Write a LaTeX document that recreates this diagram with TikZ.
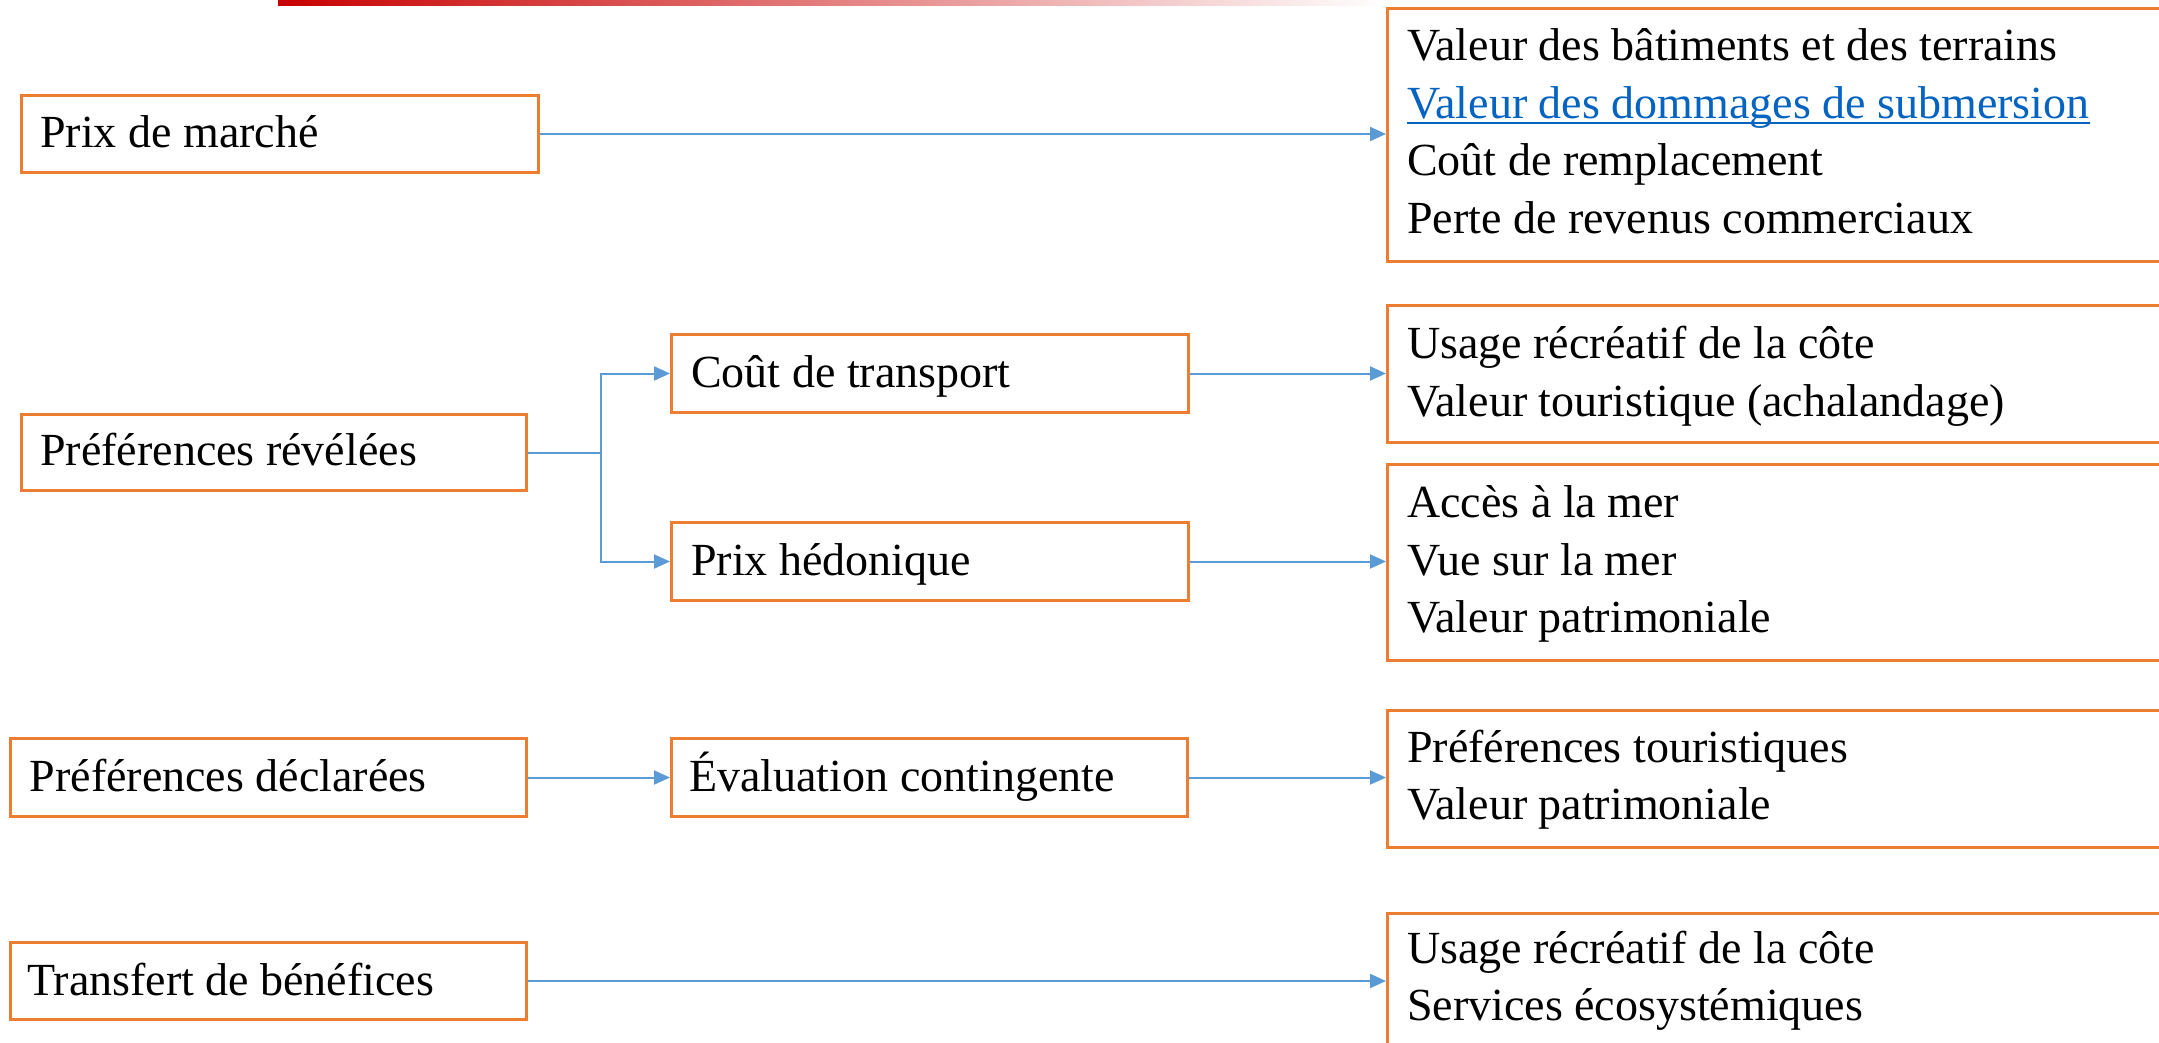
\documentclass[tikz,border=0pt]{standalone}
\usepackage{fontspec}
\setmainfont{Liberation Serif}
\usetikzlibrary{arrows.meta}
\definecolor{boxorange}{RGB}{237,125,49}
\definecolor{linkblue}{RGB}{91,155,213}
\definecolor{hyperblue}{RGB}{5,99,193}
\definecolor{barred}{RGB}{200,0,0}
\tikzset{
  box/.style={draw=boxorange, line width=3pt, rectangle, inner sep=0pt, anchor=north west},
  lbl/.style={anchor=base west, inner sep=0pt, font=\fontsize{46}{57.5}\selectfont, text=black},
  conn/.style={draw=linkblue, line width=2pt, -{Triangle[length=16pt,width=14pt]}},
  plainline/.style={draw=linkblue, line width=2pt},
}
\begin{document}
\begin{tikzpicture}[x=1pt,y=-1pt]
\useasboundingbox (0,0) rectangle (2159,1043);
\clip (0,0) rectangle (2159,1043);
\fill[white] (0,0) rectangle (2159,1043);
\shade[left color=barred, right color=white] (278,0) rectangle (1386,6);

% left column
\node[box, minimum width=517pt, minimum height=77pt] (A) at (20,94) {};
\node[box, minimum width=505pt, minimum height=76pt] (B) at (20,413) {};
\node[box, minimum width=516pt, minimum height=78pt] (C) at (9,737) {};
\node[box, minimum width=516.5pt, minimum height=77pt] (D) at (8.5,941) {};
% middle column
\node[box, minimum width=517pt, minimum height=78pt] (E) at (670,333) {};
\node[box, minimum width=517pt, minimum height=78pt] (F) at (670,521) {};
\node[box, minimum width=516pt, minimum height=78pt] (G) at (670,737) {};
% right column
\node[box, minimum width=800pt, minimum height=253pt] (R1) at (1386,7) {};
\node[box, minimum width=800pt, minimum height=137pt] (R2) at (1386,304) {};
\node[box, minimum width=800pt, minimum height=196pt] (R3) at (1386,463) {};
\node[box, minimum width=800pt, minimum height=137pt] (R4) at (1386,709) {};
\node[box, minimum width=800pt, minimum height=134pt] (R5) at (1386,912) {};

% texts
\node[lbl] (tA) at (40,148) {Prix de marché};
\node[lbl] (tB) at (40,465) {Préférences révélées};
\node[lbl] (tC) at (29.5,791) {Préférences déclarées};
\node[lbl] (tD) at (27,995) {Transfert de bénéfices};
\node[lbl] (tE) at (691,387) {Coût de transport};
\node[lbl] (tF) at (691,575) {Prix hédonique};
\node[lbl] (tG) at (689,791) {Évaluation contingente};

\node[lbl] (r1a) at (1407,61) {Valeur des bâtiments et des terrains};
\node[lbl, text=hyperblue] (r1b) at (1407,118.5) {Valeur des dommages de submersion};
\node[lbl] (r1c) at (1407,176) {Coût de remplacement};
\node[lbl] (r1d) at (1407,233.5) {Perte de revenus commerciaux};
\draw[hyperblue, line width=2.5pt] ([yshift=-4.5pt]r1b.base west) -- ([yshift=-4.5pt]r1b.base east);

\node[lbl] (r2a) at (1407,358) {Usage récréatif de la côte};
\node[lbl] (r2b) at (1407,416) {Valeur touristique (achalandage)};

\node[lbl] (r3a) at (1407,517) {Accès à la mer};
\node[lbl] (r3b) at (1407,575) {Vue sur la mer};
\node[lbl] (r3c) at (1407,632) {Valeur patrimoniale};

\node[lbl] (r4a) at (1407,762) {Préférences touristiques};
\node[lbl] (r4b) at (1407,819) {Valeur patrimoniale};

\node[lbl] (r5a) at (1407,963) {Usage récréatif de la côte};
\node[lbl] (r5b) at (1407,1020) {Services écosystémiques};

% connectors
\draw[conn] (A.east) -- (A.east -| R1.west);
\coordinate (J) at ([xshift=73pt]B.east);
\draw[plainline] (B.east) -- (J);
\draw[conn] (J) |- (E.west);
\draw[conn] (J) |- (F.west);
\draw[conn] (E.east) -- (E.east -| R2.west);
\draw[conn] (F.east) -- (F.east -| R3.west);
\draw[conn] (C.east) -- (C.east -| G.west);
\draw[conn] (G.east) -- (G.east -| R4.west);
\draw[conn] (D.east) -- (D.east -| R5.west);
\end{tikzpicture}
\end{document}
